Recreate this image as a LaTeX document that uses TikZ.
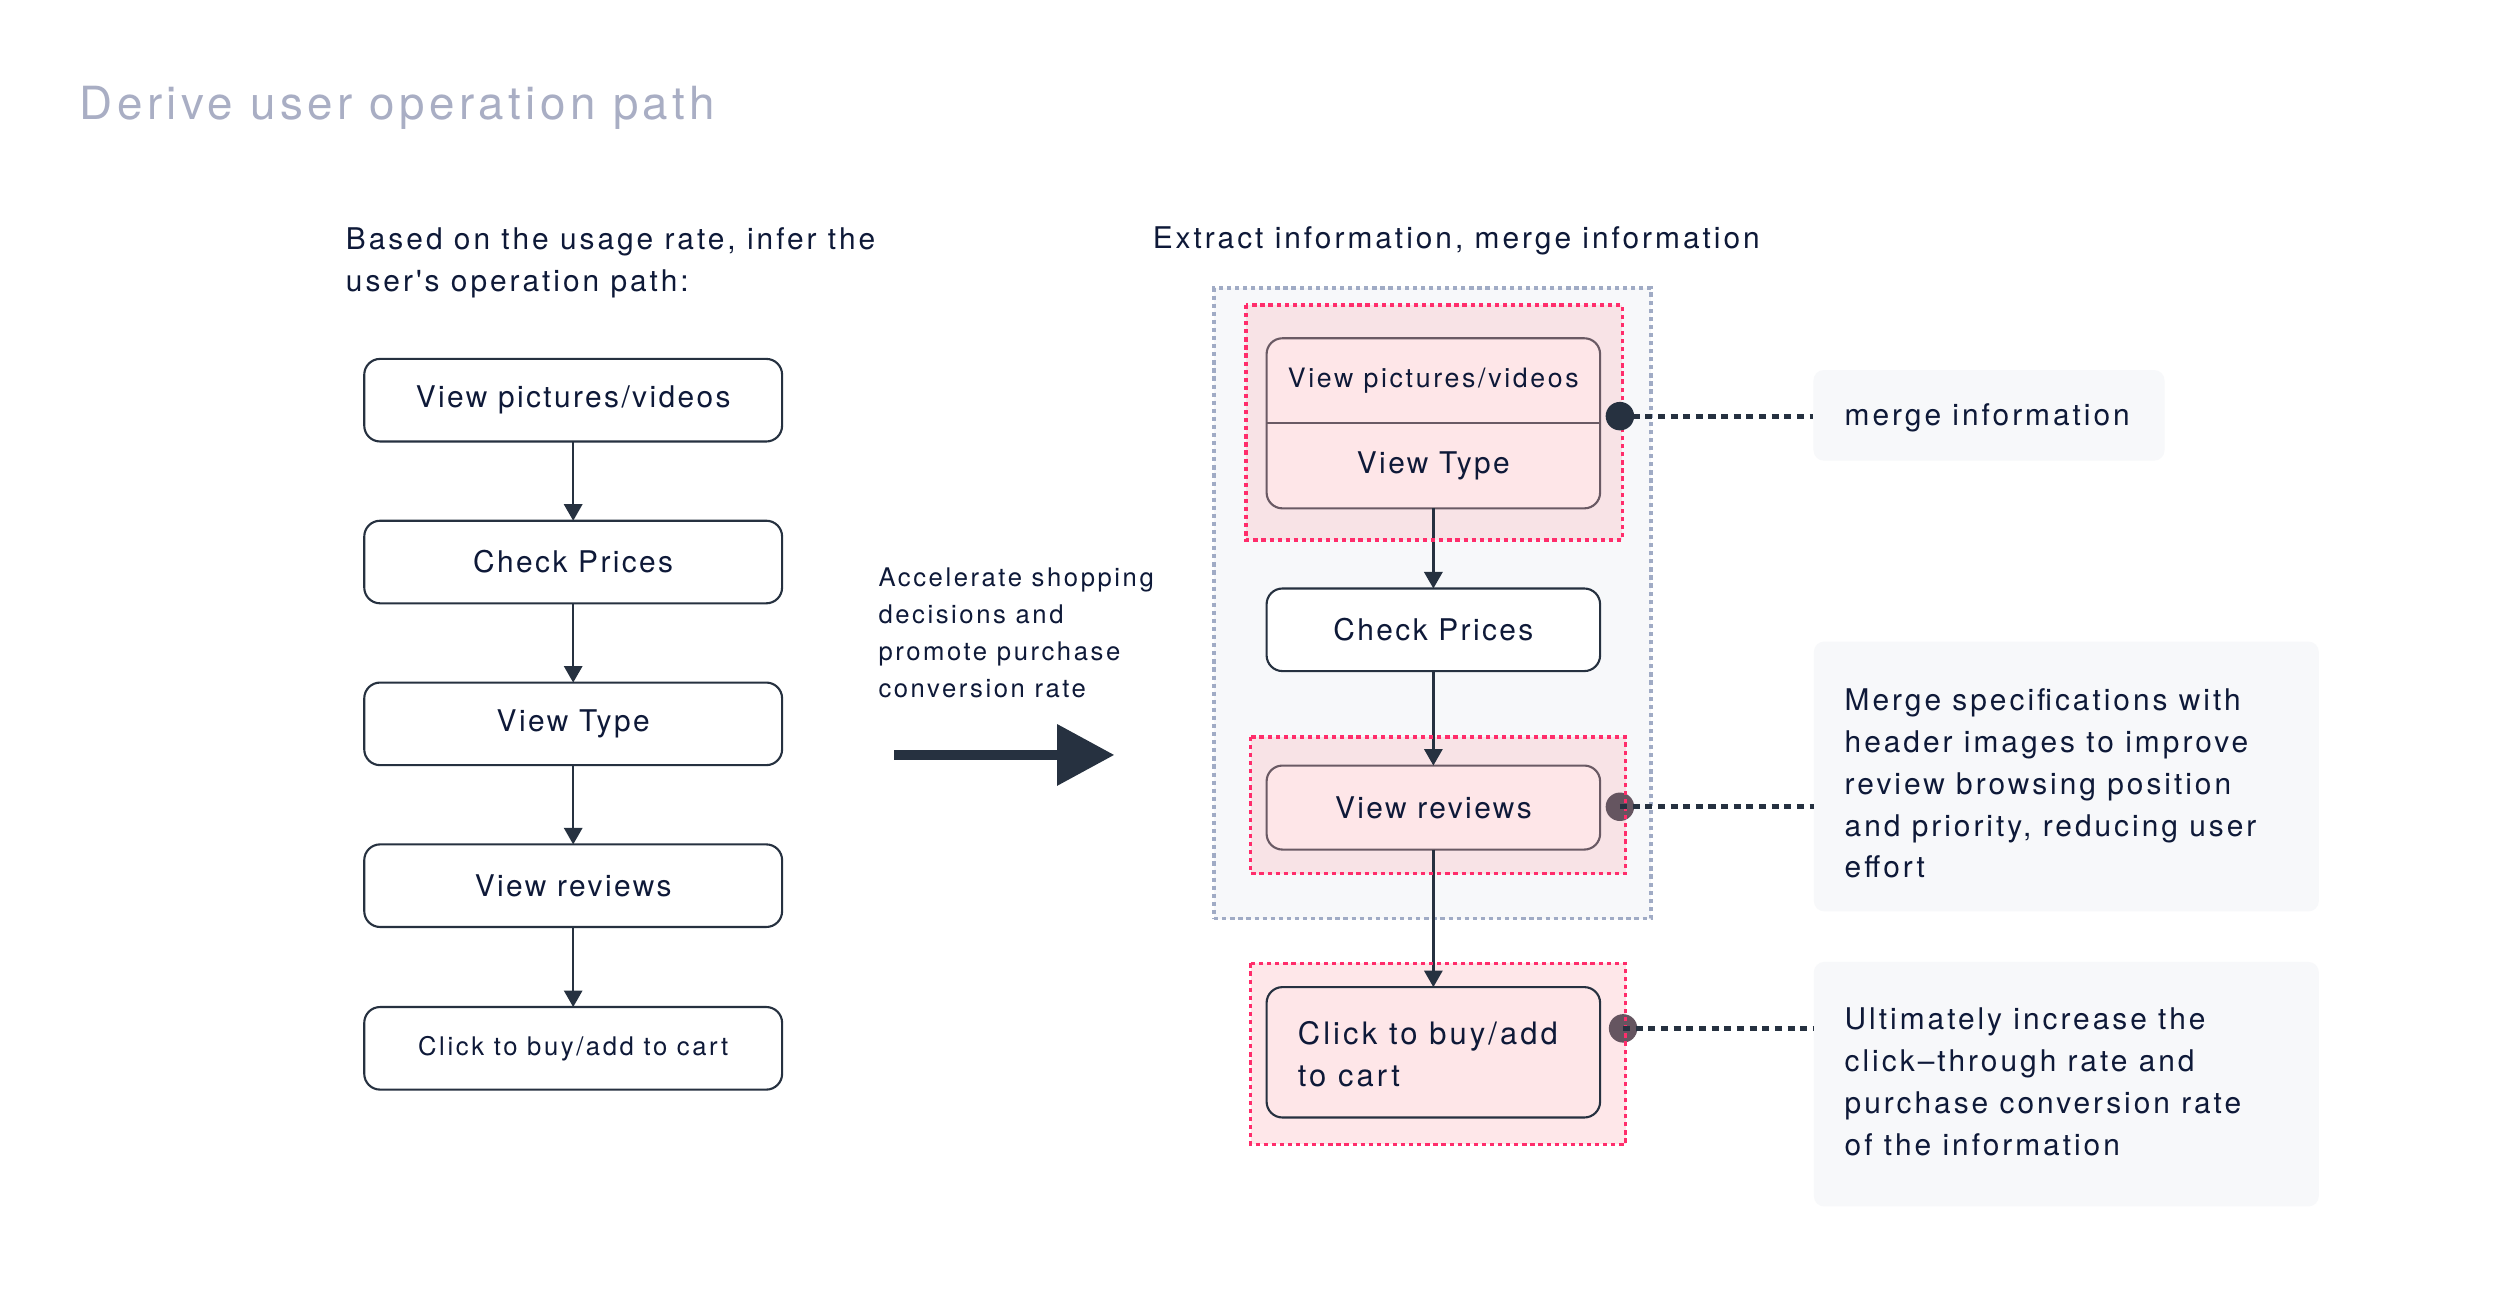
\documentclass[tikz,border=0pt]{standalone}
\usepackage{fontspec}
\setmainfont{TeX Gyre Heros}[LetterSpace=8]
\newfontfamily\fsm{TeX Gyre Heros}[LetterSpace=10]
\newfontfamily\fwd{TeX Gyre Heros}[LetterSpace=10]
\newfontfamily\fti{TeX Gyre Heros}[LetterSpace=9.8]
\usetikzlibrary{arrows.meta}
\definecolor{txt}{HTML}{0E1938}
\definecolor{ttl}{HTML}{A9AEC4}
\definecolor{ink}{HTML}{263140}
\definecolor{gbg}{HTML}{F7F8FA}
\definecolor{gdash}{HTML}{A0ABC5}
\definecolor{pdash}{HTML}{FF2D6B}
\definecolor{pgrp}{HTML}{F8E3E6}
\definecolor{pgrpb}{HTML}{FEE7E9}
\definecolor{pnode}{HTML}{FEE6E8}
\definecolor{pborder}{HTML}{6A5A64}
\definecolor{dotmid}{HTML}{655560}
\newcommand\fsbody{\fontsize{8.5pt}{11.9pt}\selectfont}
\newcommand\fswide{\fwd\fontsize{8.5pt}{11.9pt}\selectfont}
\newcommand\fsclick{\fwd\fontsize{8.8pt}{11.9pt}\selectfont}
\newcommand\fssmall{\fsm\fontsize{7.3pt}{10.5pt}\selectfont}
\newcommand\fsmini{\fsm\fontsize{7.6pt}{10.5pt}\selectfont}
\newcommand\fstitle{\fti\fontsize{13pt}{15pt}\selectfont}
\begin{document}
\begin{tikzpicture}[x=0.0159439cm,y=-0.0159439cm,
  every node/.style={inner sep=0pt, outer sep=0pt, text=txt},
  lbox/.style={draw=ink, line width=0.6pt, rounded corners=4.5pt, minimum width=118.9pt, minimum height=23.5pt, font=\fsbody, fill=white},
  rbox/.style={lbox, minimum width=94.9pt},
  pbox/.style={rbox, fill=pnode, draw=pborder},
  flow/.style={draw=ink, line width=0.65pt, -{Triangle[length=4.7pt,width=5.2pt]}},
  pdashed/.style={draw=pdash, line width=1pt, dash pattern=on 1.2pt off 1.1pt},
  gdashed/.style={draw=gdash, line width=1pt, dash pattern=on 1.2pt off 1.1pt},
  dotline/.style={draw=ink, line width=1.4pt, dash pattern=on 2pt off 1.6pt},
  note/.style={fill=gbg, rounded corners=3pt},
  dotc/.style={circle, fill=ink, minimum size=8.1pt}
]
\useasboundingbox[fill=white] (0,0) rectangle (1568,822);

% title and headers
\node[anchor=base west, text=ttl, font=\fstitle] (title) at (50,74.8) {Derive user operation path};
\node[anchor=west, align=left, font=\fswide] (lhead) at (217,165) {Based on the usage rate, infer the\\user's operation path:};
\node[anchor=west, font=\fswide] (rhead) at (723,151) {Extract information, merge information};

% left flow
\node[lbox] (l1) at (359.5,251) {View pictures/videos};
\node[lbox] (l2) at (359.5,352.5) {Check Prices};
\node[lbox] (l3) at (359.5,454) {View Type};
\node[lbox] (l4) at (359.5,555.5) {View reviews};
\node[lbox, font=\fssmall] (l5) at (359.5,657.5) {Click to buy/add to cart};
\draw[flow] (l1) -- (l2);
\draw[flow] (l2) -- (l3);
\draw[flow] (l3) -- (l4);
\draw[flow] (l4) -- (l5);

% middle
\node[anchor=west, align=left, font=\fssmall] (mid) at (551,397) {Accelerate shopping\\decisions and\\promote purchase\\conversion rate};
\coordinate (bigA) at (561,473.5);
\coordinate (bigB) at (699,473.5);
\draw[ink, line width=3pt, -{Triangle[length=16.3pt,width=16.7pt]}] (bigA) -- (bigB);

% right grouping
\node[gdashed, fill=gbg, minimum width=124.3pt, minimum height=179.4pt] (outer) at (898.5,378.5) {};
\node[fill=pgrp, minimum width=107.1pt, minimum height=66.9pt] (g1) at (899.5,265) {};
\node[fill=pgrp, minimum width=106.7pt, minimum height=38.9pt] (g2) at (902,505) {};
\node[fill=pgrpb, minimum width=106.7pt, minimum height=51.5pt] (g3) at (902,661) {};

\node[pbox, minimum height=48.4pt] (m1) at (899,265.5) {};
\draw[pborder, line width=0.6pt] (m1.west) -- (m1.east);
\node[font=\fsmini] (m1a) at (899,239) {View pictures/videos};
\node[font=\fsbody] (m1b) at (899,292) {View Type};
\node[rbox] (r2) at (899,395) {Check Prices};
\node[pbox, minimum height=23.9pt] (r3) at (899,506.5) {View reviews};
\node[rbox, fill=pnode, minimum height=37.1pt] (r4) at (899,660) {};
\node[anchor=west, align=left, font=\fsclick] (r4t) at (814,661) {Click to buy/add\\to cart};
\draw[flow] (m1) -- (r2);
\draw[flow] (r2) -- (r3);
\draw[flow] (r3) -- (r4);

% notes
\node[note, minimum width=99.9pt, minimum height=25.8pt] (n1) at (1247.5,260.5) {};
\node[anchor=west, font=\fswide] (n1t) at (1157,262) {merge information};
\node[note, minimum width=143.7pt, minimum height=76.8pt] (n2) at (1296,487) {};
\node[anchor=west, align=left, font=\fswide] (n2t) at (1157,491.5) {Merge specifications with\\header images to improve\\review browsing position\\and priority, reducing user\\effort};
\node[note, minimum width=143.7pt, minimum height=69.6pt] (n3) at (1296,680) {};
\node[anchor=west, align=left, font=\fswide] (n3t) at (1157,678.5) {Ultimately increase the\\click–through rate and\\purchase conversion rate\\of the information};

% dots under borders
\node[dotc, fill=dotmid] (d2) at (1016,506) {};
\node[dotc, fill=dotmid] (d3) at (1018,645) {};
\draw[pdashed] (g1.north west) rectangle (g1.south east);
\draw[pdashed] (g2.north west) rectangle (g2.south east);
\draw[pdashed] (g3.north west) rectangle (g3.south east);
\node[dotc] (d1) at (1016,261) {};

\draw[dotline] (d1.center) -- (n1.west |- d1);
\draw[dotline] (d2.center) -- (n2.west |- d2);
\draw[dotline] (d3.center) -- (n3.west |- d3);
\end{tikzpicture}
\end{document}
